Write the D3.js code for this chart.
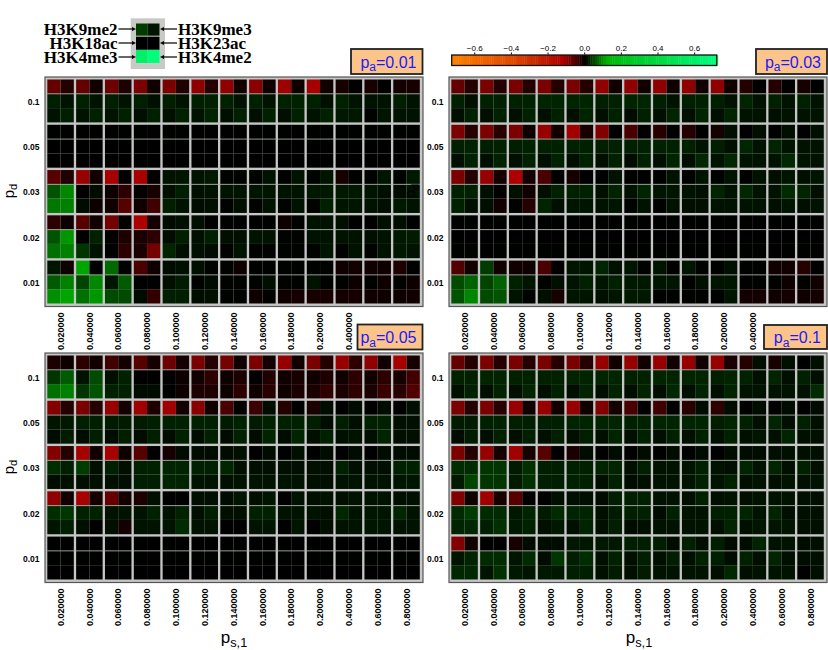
<!DOCTYPE html>
<html>
<head>
<meta charset="utf-8">
<script src="https://cdn.jsdelivr.net/npm/d3@7"></script>
<style>
body { margin: 0; background: #fff; }
svg { display: block; }
</style>
</head>
<body>
<script>
const width = 828;
const height = 650;

const pdLabels = ["0.1","0.05","0.03","0.02","0.01"];
const psLabels = ["0.020000","0.040000","0.060000","0.080000","0.100000","0.120000","0.140000","0.160000","0.180000","0.200000","0.400000","0.600000","0.800000"];
const barTicks = [-0.6,-0.4,-0.2,0,0.2,0.4,0.6];

// cell values, in thousandths: 15 rows (3 per p_d), 26 columns (2 per p_s,1)
const pa001 = [
[-70,-25,-70,-12,-75,-20,-85,-12,-85,-22,-100,-25,-100,-12,-95,-12,-110,-10,-115,-12,-15,0,-15,0,-14,-16],
[20,12,22,12,20,12,20,10,20,12,20,22,22,12,22,12,22,22,22,10,22,12,12,12,20,12],
[12,20,12,22,12,22,10,22,10,22,12,24,10,22,10,22,10,22,12,22,15,15,2,14,12,12],
[1,1,1,1,1,1,1,1,1,1,1,1,1,1,1,1,1,1,1,1,1,1,1,1,1,1],
[0,0,0,0,0,0,0,0,0,0,0,0,0,0,0,0,0,0,0,0,0,0,0,0,0,0],
[0,0,0,0,0,0,0,0,0,0,0,0,0,0,0,0,0,0,0,0,0,0,0,0,0,0],
[-60,-22,-105,-12,-115,-2,-115,-2,12,14,12,15,2,2,2,12,2,12,2,14,-15,1,2,14,2,15],
[55,90,0,8,-8,-30,0,-15,10,20,10,12,12,12,14,14,12,12,15,15,16,16,14,10,8,12],
[80,85,8,-10,-12,-60,-10,-45,20,12,8,10,2,10,2,12,2,12,2,22,14,14,12,10,16,12],
[-30,-10,-60,-12,-80,-2,-120,-14,8,10,10,1,2,2,1,1,-10,1,12,12,10,1,1,10,10,1],
[55,100,0,22,0,-20,-18,-30,8,20,10,20,10,10,12,12,2,2,12,12,12,12,10,12,16,18],
[75,85,35,12,0,-30,-18,-80,24,10,10,8,2,12,2,2,2,2,2,14,2,12,2,12,16,12],
[14,-10,110,0,70,0,-50,-10,8,10,10,1,2,-8,1,1,1,1,1,1,-12,-12,-12,-10,-20,0],
[60,85,45,90,14,60,0,0,10,18,1,8,2,2,2,10,2,1,12,1,1,-8,1,-10,1,-8],
[95,110,75,100,50,50,8,-35,20,20,8,10,2,2,-10,1,-10,-14,-15,-15,-14,-14,-12,-10,-10,-12]
];

const pa003 = [
[-70,-25,-85,-25,-85,-25,-85,-25,-85,-25,-100,-12,-100,-12,-100,-12,-100,-12,-100,-12,-25,0,-25,0,-16,0],
[22,10,22,22,22,22,24,24,24,24,20,22,24,24,20,12,20,22,20,12,24,12,22,12,22,12],
[10,22,10,22,10,22,10,22,10,24,10,22,8,22,10,24,10,24,10,24,12,12,10,12,12,12],
[-85,-25,-85,-28,-85,-12,-105,-12,-110,-16,-90,0,-50,0,-28,0,-25,0,-14,10,0,10,0,10,0,10],
[22,22,20,22,20,22,22,22,22,22,20,22,22,22,22,22,22,12,20,10,25,12,24,12,12,12],
[10,22,10,22,10,22,10,22,10,22,10,22,8,22,10,24,10,26,12,26,12,12,12,26,12,12],
[-85,-25,-105,-14,-120,-14,-50,0,-14,0,1,12,1,1,1,12,1,12,1,12,1,12,10,14,10,14],
[22,22,10,1,10,-12,10,22,22,22,10,24,12,24,14,14,12,10,24,12,26,12,12,28,24,10],
[22,10,10,-12,1,-25,24,10,14,14,12,14,1,12,1,12,10,10,12,12,12,12,10,14,10,12],
[1,1,1,1,1,1,1,1,1,1,1,1,1,1,1,1,1,1,1,1,1,1,1,1,1,1],
[0,0,0,0,0,0,0,0,0,0,0,0,0,0,0,0,0,0,0,0,0,0,0,0,0,0],
[1,1,1,1,1,1,1,1,1,1,1,1,1,1,1,1,1,1,1,1,1,1,1,1,1,1],
[-55,-12,40,-12,-12,-10,-50,0,14,14,24,10,14,1,14,1,14,1,1,10,1,1,-12,-12,-25,0],
[50,65,45,65,22,14,1,10,12,22,14,22,16,16,14,14,1,10,14,14,1,1,1,-10,1,-12],
[55,90,50,55,12,2,10,-15,14,14,10,14,16,16,1,1,1,1,1,14,-14,-14,-12,-14,-12,-14]
];

const pa005 = [
[-20,-10,-30,-12,-45,-14,-60,-16,-75,-14,-85,-25,-80,-12,-85,-14,-105,-12,-85,-25,-105,-30,-100,-12,-115,-16],
[35,60,12,50,10,22,0,0,0,-8,-12,-30,-10,-20,0,-22,-12,-16,-10,-20,-12,-30,-12,-30,-15,-45],
[75,85,35,55,22,22,8,8,0,-10,-20,-20,-10,-30,-10,-28,-10,-18,-18,-32,-18,-30,-18,-40,-28,-55],
[-90,-25,-85,-25,-105,-14,-110,-20,-110,-14,-95,-12,-50,0,-40,8,-25,0,-18,8,0,8,0,8,0,10],
[14,16,20,20,18,18,18,20,22,22,22,22,18,22,18,22,22,22,20,8,20,10,22,22,10,10],
[8,18,8,20,8,20,8,20,8,22,8,22,8,22,8,24,8,24,10,22,10,12,10,24,10,10],
[-90,-25,-115,-12,-115,-12,-60,0,-14,8,8,8,8,10,0,8,0,10,0,8,0,8,0,8,8,8],
[30,20,40,10,22,10,22,22,24,24,22,22,25,10,10,10,10,10,10,10,22,10,10,10,22,22],
[8,10,10,10,10,10,20,20,24,24,12,12,10,12,12,12,12,12,10,10,12,12,12,12,14,14],
[-100,-12,-115,-14,-70,-14,-20,10,0,0,10,10,8,14,10,14,0,12,10,12,10,12,12,12,10,10],
[30,35,22,22,12,12,12,22,12,22,10,20,10,10,22,22,12,12,12,10,25,12,14,14,25,12],
[14,20,10,0,10,-14,12,12,12,28,12,12,0,0,12,14,0,14,0,10,12,12,14,14,12,12],
[0,0,0,0,0,0,0,0,0,0,0,0,0,0,0,0,0,0,0,0,0,0,0,0,0,0],
[1,1,1,1,1,1,1,1,1,1,1,1,1,1,1,1,1,1,1,1,1,1,1,1,1,1],
[0,0,0,0,0,0,0,0,0,0,0,0,0,0,0,0,0,0,0,0,0,0,0,0,0,0]
];

const pa01 = [
[-70,-25,-85,-25,-85,-25,-85,-25,-85,-25,-105,-12,-105,-12,-105,-12,-105,-12,-105,-18,-25,10,-15,10,0,10],
[22,22,24,24,22,22,22,22,24,24,24,24,22,22,24,24,24,24,20,24,22,10,24,10,22,10],
[10,22,10,24,10,24,10,22,10,24,10,24,10,24,10,26,10,24,10,24,12,12,12,12,12,28],
[-85,-25,-85,-28,-105,-12,-105,-12,-105,-12,-90,-14,-50,0,-45,0,-28,8,-30,8,0,8,0,8,0,8],
[18,18,22,22,20,20,20,20,24,24,24,24,22,22,24,24,24,24,20,24,22,10,24,10,22,10],
[8,18,10,22,10,20,10,20,10,20,10,24,10,22,10,22,10,22,10,22,10,14,10,24,10,10],
[-85,-25,-105,-14,-110,-16,-60,0,-18,8,0,8,0,8,0,8,0,8,0,8,8,8,10,10,10,10],
[30,28,35,35,18,32,20,20,22,22,24,24,10,20,12,12,12,22,12,10,24,12,24,10,22,10],
[18,45,35,35,18,32,20,20,22,22,10,22,8,10,12,12,12,22,12,22,10,12,10,12,10,12],
[-90,-12,-110,-16,-60,-2,-1,10,10,10,8,20,20,22,12,12,10,22,10,12,10,12,12,12,10,10],
[28,40,28,28,16,24,18,28,24,24,10,18,20,22,8,22,12,12,20,22,24,12,24,10,10,10],
[24,26,20,32,16,22,10,16,10,24,10,20,8,10,12,12,12,12,10,24,10,14,14,14,10,10],
[-90,-12,0,0,-15,8,8,8,16,16,16,16,20,20,20,8,22,10,20,8,8,24,12,12,8,10],
[14,24,28,28,14,28,8,35,20,30,10,22,10,20,10,20,10,22,20,8,22,10,24,10,8,10],
[26,26,14,32,16,14,16,16,20,20,10,18,10,18,12,12,12,12,10,26,10,12,12,12,0,10]
];

const keyValues = [[40,14],[0,0],[600,700]];
const keyLeft = ["H3K9me2","H3K18ac","H3K4me3"];
const keyRight = ["H3K9me3","H3K23ac","H3K4me2"];

const color = d3.scaleLinear()
    .domain([-720,-400,-120,0,120,200,720])
    .range(["#ff8000","#e04a00","#ae0000","#000000","#00b400","#00c41a","#00ff80"]);

const svg = d3.select("body").append("svg")
    .attr("width", width)
    .attr("height", height);

function subText(g, main, sub, rest, size) {
    const t = g.append("text").style("font-family","'Liberation Sans',Arial,sans-serif").style("font-size", size + "px");
    t.append("tspan").text(main);
    t.append("tspan").attr("dy", size*0.22).style("font-size",(size*0.75)+"px").text(sub);
    if (rest) t.append("tspan").attr("dy", -size*0.22).text(rest);
    return t;
}

function drawPanel(values, left, top, name, showTicks, badge) {
    const g = svg.append("g");
    const frameW = 378, frameH = 229.5;

    g.append("rect")
        .attr("x",left).attr("y",top)
        .attr("width",frameW).attr("height",frameH)
        .attr("fill","#c6c6c6")
        .attr("stroke","#555")
        .attr("stroke-width",1.2);

    const x = d3.scaleBand().domain(psLabels).range([left+2.3, left+374.8]).paddingInner(0.08);
    const y = d3.scaleBand().domain(pdLabels).range([top+2.5, top+226.5]).paddingInner(0.052);
    const xCell = d3.scaleBand().domain([0,1]).range([0, x.bandwidth()]);
    const yCell = d3.scaleBand().domain([0,1,2]).range([0, y.bandwidth()]);

    values.forEach(function(row,r){
        const pd = pdLabels[Math.floor(r/3)];
        const inner = r % 3;
        g.selectAll(null)
            .data(row)
            .enter()
            .append("rect")
            .attr("x",(d,c)=>x(psLabels[Math.floor(c/2)]) + xCell(c%2))
            .attr("y",y(pd) + yCell(inner))
            .attr("width",xCell.bandwidth())
            .attr("height",yCell.bandwidth())
            .attr("fill",d=>color(d))
            .attr("stroke","#fff")
            .attr("stroke-opacity",0.03)
            .attr("stroke-width",0.5);
    });

    // line under the first row of each block
    g.selectAll(null)
        .data(pdLabels)
        .enter()
        .append("line")
        .attr("x1",left+2.3).attr("x2",left+374.8)
        .attr("y1",d=>y(d)+yCell(1))
        .attr("y2",d=>y(d)+yCell(1))
        .attr("stroke","#b4b4b4")
        .attr("stroke-width",0.8);

    const xAxis = g.append("g")
        .attr("transform","translate(0," + (top+frameH) + ")")
        .call(d3.axisBottom(x).tickSize(0).tickValues(showTicks));
    xAxis.select(".domain").remove();
    xAxis.selectAll("text")
        .attr("transform","rotate(-90)")
        .attr("x",-6)
        .attr("y",0)
        .attr("dy","0.35em")
        .style("text-anchor","end")
        .style("font-family","'Liberation Sans',Arial,sans-serif")
        .style("font-weight","bold")
        .style("font-size","9px");

    const yAxis = g.append("g")
        .attr("transform","translate(" + (left-5.5) + ",1)")
        .call(d3.axisLeft(y).tickSize(0).tickPadding(0));
    yAxis.select(".domain").remove();
    yAxis.selectAll("text")
        .style("font-family","'Liberation Sans',Arial,sans-serif")
        .style("font-weight","bold")
        .style("font-size","8.5px")
        .attr("fill","#000");

    // p_a badge
    g.append("rect")
        .attr("x",badge.x).attr("y",badge.y)
        .attr("width",badge.w).attr("height",badge.h)
        .attr("fill","#fdc48a")
        .attr("stroke","#222")
        .attr("stroke-width",1.8);
    subText(g,"p","a","=" + name,16)
        .attr("x",badge.x+badge.w-6)
        .attr("y",badge.y+badge.h/2+6)
        .attr("text-anchor","end")
        .attr("fill","#1a1aff");
}

const shortTicks = psLabels.slice(0,11);

drawPanel(pa001, 45, 77, "0.01", shortTicks, {x:351,y:49,w:71.5,h:25});
drawPanel(pa003, 449, 77, "0.03", shortTicks, {x:756,y:49,w:71,h:25});
drawPanel(pa005, 45, 353, "0.05", psLabels, {x:357.5,y:324.5,w:65,h:25});
drawPanel(pa01, 449, 353, "0.1", psLabels, {x:764,y:325,w:63,h:24});

// axis titles
[[8.8,191],[8.8,467],[410,191]].forEach(function(p){
    subText(svg,"p","d",null,15)
        .attr("transform","translate(" + p[0] + "," + p[1] + ") rotate(-90)")
        .attr("text-anchor","middle")
        .attr("dy","0.35em")
        .attr("fill","#000");
});
[[234,643],[639,643]].forEach(function(p){
    subText(svg,"p","s,1",null,17)
        .attr("x",p[0]).attr("y",p[1])
        .attr("text-anchor","middle")
        .attr("fill","#000");
});

// colour bar
const barScale = d3.scaleLinear().domain([-0.723,0.723]).range([451.7,716.7]);
const bar = svg.append("g");
const barSteps = d3.range(-0.723,0.723,0.012);
bar.selectAll("rect")
    .data(barSteps)
    .enter()
    .append("rect")
    .attr("x",d=>barScale(d))
    .attr("y",55)
    .attr("width",barScale(0.012)-barScale(0)+0.4)
    .attr("height",10.5)
    .attr("fill",d=>color(d*1000));
bar.append("rect")
    .attr("x",451.7).attr("y",55)
    .attr("width",265).attr("height",10.5)
    .attr("fill","none")
    .attr("stroke","#111")
    .attr("stroke-width",1.3);
const barAxis = bar.append("g")
    .attr("transform","translate(0,54.5)")
    .call(d3.axisTop(barScale).tickValues(barTicks).tickSize(2).tickPadding(1.5).tickFormat(d3.format(".1f")));
barAxis.select(".domain").remove();
barAxis.selectAll("text")
    .style("font-family","'Liberation Sans',Arial,sans-serif")
    .style("font-size","8px");

// key at the top left
const key = svg.append("g");
key.append("rect")
    .attr("x",130.7).attr("y",18.3)
    .attr("width",34.3).attr("height",50.7)
    .attr("fill","#c8cac6");
const keyX = d3.scaleBand().domain([0,1]).range([136,159.5]);
const keyY = d3.scaleBand().domain(keyLeft).range([23.5,63]);
keyValues.forEach(function(row,r){
    key.selectAll(null)
        .data(row)
        .enter()
        .append("rect")
        .attr("x",(d,c)=>keyX(c))
        .attr("y",keyY(keyLeft[r]))
        .attr("width",keyX.bandwidth())
        .attr("height",keyY.bandwidth()-(r==0?1:0))
        .attr("fill",d=>color(d));
});

const labelY = d3.scalePoint().domain(keyLeft).range([29,57]);
function keyLabels(labels, xPos, anchor) {
    key.selectAll(null)
        .data(labels)
        .enter()
        .append("text")
        .attr("x",xPos)
        .attr("y",(d,i)=>labelY(keyLeft[i]))
        .attr("dy","0.33em")
        .attr("text-anchor",anchor)
        .style("font-family","'Liberation Serif','Times New Roman',serif")
        .style("font-weight","bold")
        .style("font-size","17px")
        .text(d=>d);
}
keyLabels(keyLeft,117.5,"end");
keyLabels(keyRight,178,"start");

keyLeft.forEach(function(k){
    const yy = labelY(k);
    key.append("line").attr("x1",118.5).attr("x2",133).attr("y1",yy).attr("y2",yy).attr("stroke","#000").attr("stroke-width",1.2);
    key.append("path").attr("d","M136," + yy + "l-4,-2v4z").attr("fill","#000");
    key.append("line").attr("x1",177).attr("x2",163).attr("y1",yy).attr("y2",yy).attr("stroke","#000").attr("stroke-width",1.2);
    key.append("path").attr("d","M160," + yy + "l4,-2v4z").attr("fill","#000");
});
</script>
</body>
</html>
